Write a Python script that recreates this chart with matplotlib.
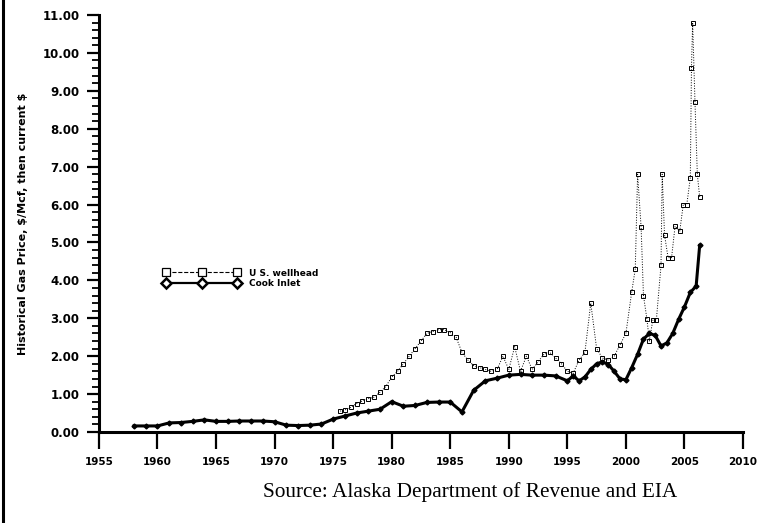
import numpy as np
from matplotlib import pyplot as plt
from matplotlib.lines import Line2D
from matplotlib.ticker import MultipleLocator, FormatStrFormatter

# ---- donnees ----
cook_years = [1958, 1959, 1960, 1961, 1962, 1963, 1964, 1965, 1966, 1967, 1968, 1969,
              1970, 1971, 1972, 1973, 1974, 1975, 1976, 1977, 1978, 1979, 1980, 1981,
              1982, 1983, 1984, 1985, 1986, 1987, 1988, 1989, 1990, 1991, 1992, 1993,
              1994, 1995, 1995.5, 1996, 1996.5, 1997, 1997.5, 1998, 1998.5, 1999, 1999.5,
              2000, 2000.5, 2001, 2001.5, 2002, 2002.5, 2003, 2003.5, 2004, 2004.5,
              2005, 2005.5, 2006, 2006.3]
cook_price = [0.16, 0.16, 0.16, 0.24, 0.25, 0.28, 0.32, 0.28, 0.28, 0.29, 0.29, 0.29,
              0.27, 0.18, 0.17, 0.18, 0.21, 0.34, 0.42, 0.50, 0.55, 0.60, 0.80, 0.68,
              0.70, 0.78, 0.79, 0.79, 0.53, 1.10, 1.35, 1.42, 1.50, 1.52, 1.50, 1.50,
              1.48, 1.35, 1.48, 1.35, 1.45, 1.65, 1.80, 1.85, 1.78, 1.60, 1.40,
              1.38, 1.70, 2.05, 2.45, 2.60, 2.55, 2.27, 2.35, 2.60, 2.97,
              3.30, 3.68, 3.85, 4.92]

us_years = [1975.6, 1976.0, 1976.5, 1977.0, 1977.5, 1978.0, 1978.5, 1979.0, 1979.5,
            1980.0, 1980.5, 1981.0, 1981.5, 1982.0, 1982.5, 1983.0, 1983.5, 1984.0,
            1984.5, 1985.0, 1985.5, 1986.0, 1986.5, 1987.0, 1987.5, 1988.0, 1988.5,
            1989.0, 1989.5, 1990.0, 1990.5, 1991.0, 1991.5, 1992.0, 1992.5, 1993.0,
            1993.5, 1994.0, 1994.5, 1995.0, 1995.5, 1996.0, 1996.5, 1997.0, 1997.5,
            1998.0, 1998.5, 1999.0, 1999.5, 2000.0, 2000.5, 2000.8, 2001.0, 2001.3,
            2001.5, 2001.8, 2002.0, 2002.3, 2002.6, 2003.0, 2003.1, 2003.3, 2003.6,
            2003.9, 2004.2, 2004.6, 2004.9, 2005.2, 2005.5, 2005.6, 2005.7, 2005.9,
            2006.1, 2006.3]
us_price = [0.55, 0.58, 0.65, 0.75, 0.82, 0.88, 0.92, 1.05, 1.20,
            1.45, 1.60, 1.80, 2.00, 2.20, 2.40, 2.60, 2.65, 2.70,
            2.70, 2.62, 2.50, 2.10, 1.90, 1.75, 1.70, 1.65, 1.60,
            1.65, 2.00, 1.65, 2.25, 1.60, 2.00, 1.65, 1.85, 2.05,
            2.10, 1.95, 1.80, 1.60, 1.55, 1.90, 2.10, 3.40, 2.20,
            1.95, 1.90, 2.00, 2.30, 2.60, 3.70, 4.30, 6.80, 5.40,
            3.60, 2.97, 2.40, 2.95, 2.95, 4.40, 6.80, 5.20, 4.60,
            4.60, 5.43, 5.30, 6.00, 6.00, 6.70, 9.60, 10.80, 8.70,
            6.80, 6.20]

x_ticks = [1955, 1960, 1965, 1970, 1975, 1980, 1985, 1990, 1995, 2000, 2005, 2010]
ylabel = "Historical Gas Price, \\$/Mcf, then current \\$"
source = "Source: Alaska Department of Revenue and EIA"

# ---- figure ----
fig = plt.figure(figsize=(7.67, 5.23), dpi=100)
ax = fig.add_axes([0.129, 0.174, 0.8397, 0.7973])

ax.plot(us_years, us_price, color='black', linestyle=':', linewidth=0.7,
        marker='s', markersize=2.3, markerfacecolor='none', markeredgewidth=0.7)
ax.plot(cook_years, cook_price, color='black', linewidth=2.2,
        marker='D', markersize=2.5)

ax.set_xlim(1955, 2010)
ax.set_ylim(0, 11)
ax.set_xticks(x_ticks)
ax.yaxis.set_major_locator(MultipleLocator(1))
ax.yaxis.set_minor_locator(MultipleLocator(0.2))
ax.yaxis.set_major_formatter(FormatStrFormatter('%.2f'))

for s in ['top', 'right']:
    ax.spines[s].set_visible(False)
for s in ['left', 'bottom']:
    ax.spines[s].set_linewidth(2.2)

ax.tick_params(axis='x', direction='out', length=12, width=1.6, pad=6,
               labelsize=7.5)
ax.tick_params(axis='y', which='major', direction='out', length=9, width=1.6,
               pad=5, labelsize=8.5)
ax.tick_params(axis='y', which='minor', direction='out', length=5, width=1.3)
for lab in ax.get_xticklabels() + ax.get_yticklabels():
    lab.set_fontweight('bold')
    lab.set_family('DejaVu Sans')

ax.set_ylabel(ylabel, fontsize=8, fontweight='bold', labelpad=10)

# legende
h_us = Line2D([], [], color='black', linestyle='--', linewidth=0.8, marker='s',
              markersize=6, markerfacecolor='white', markeredgewidth=0.9)
h_cook = Line2D([], [], color='black', linewidth=1.6, marker='D',
                markersize=5.5, markerfacecolor='white', markeredgewidth=1.8)
ax.legend([h_us, h_cook], ['U S. wellhead', 'Cook Inlet'], loc='upper left',
          bbox_to_anchor=(0.1, 0.392), frameon=False, numpoints=3,
          handlelength=8.5, handletextpad=1.0, labelspacing=0.15,
          borderpad=0, borderaxespad=0,
          prop={'size': 6.5, 'weight': 'bold'})

# bord gauche du scan
fig.add_artist(Line2D([0.004, 0.004], [0, 1], color='black', linewidth=2.2,
                      transform=fig.transFigure))

fig.text(0.613, 0.06, source, ha='center', va='center', fontsize=15.3,
         family='Liberation Serif')

plt.savefig('out.png', dpi=100)
